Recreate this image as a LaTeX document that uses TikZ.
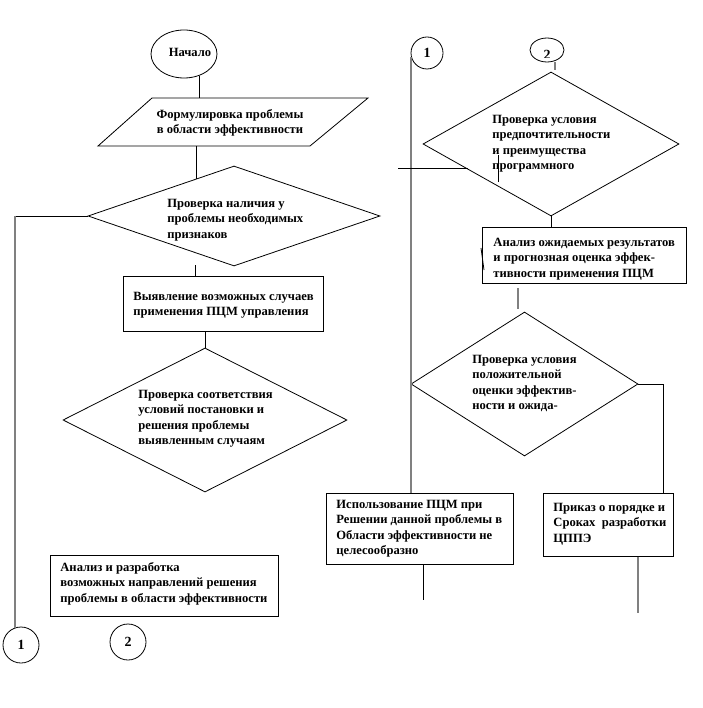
\documentclass[tikz,border=0pt]{standalone}
\usepackage{fontspec}
\setmainfont{Liberation Serif}
\usetikzlibrary{shapes.geometric}
\begin{document}
\begin{tikzpicture}[x=1pt,y=-1pt,line width=0.8pt,
  lbl/.style={anchor=north west,inner sep=0pt,align=left,font=\fontsize{12.6}{15.5}\selectfont\bfseries},
  dia/.style={draw,diamond,inner sep=0pt},
  box/.style={draw,rectangle,inner sep=0pt,line width=1pt},
  conn/.style={draw,circle,inner sep=0pt,minimum size=36pt,font=\fontsize{14}{16}\selectfont\bfseries},
  gline/.style={draw=gray,line width=1.6pt}]
\useasboundingbox (0,0) rectangle (702,708);

% ---------- left column ----------
\node[draw,ellipse,minimum width=66pt,minimum height=48pt,inner sep=0pt] (start) at (184,54) {};
\node[inner sep=0pt,font=\fontsize{12.6}{15.5}\selectfont\bfseries] (startt) at (190,52) {Начало};

\node[minimum width=216pt,minimum height=48pt,inner sep=0pt] (form) at (233,122) {};
\draw (152,98) -- (368,98) -- (310,146) -- (98,146) -- cycle;
\node[lbl,anchor=north,align=center] (formt) at (230,107) {\strut Формулировка проблемы\\в области эффективности};

\node[dia,minimum width=292pt,minimum height=100pt] (d1) at (234,216) {};
\node[lbl] (d1t) at (167,196) {\strut Проверка наличия у\\проблемы необходимых\\признаков};

\node[box,minimum width=200pt,minimum height=55pt] (b1) at (223,303.5) {};
\node[lbl] (b1t) at (133,289) {\strut Выявление возможных случаев\\применения ПЦМ управления};

\node[dia,minimum width=284pt,minimum height=144pt] (d2) at (205,420) {};
\node[lbl] (d2t) at (138,387) {\strut Проверка соответствия\\условий постановки и\\решения проблемы\\выявленным случаям};

\node[box,minimum width=228pt,minimum height=61pt] (b2) at (164,585.5) {};
\node[lbl] (b2t) at (60,560) {\strut Анализ и разработка\\возможных направлений решения\\проблемы в области эффективности};

\node[conn] (c1) at (21,645) {1};
\node[conn] (c2) at (128,642) {2};

\coordinate (k1) at (15,216);
\draw (start.-55) -- (start.-55 |- form.north);
\draw (196,146) -- (196,179.5);
\draw (d1.west) -- (k1);
\draw[gline] (k1) -- (15,628);
\draw (195,265) -- (195 ,276);
\draw (b1.south -| d2.north) -- (d2.north);

% ---------- right column ----------
\node[conn,minimum size=32pt] (c3) at (427,53) {1};
\node[draw,ellipse,minimum width=34pt,minimum height=24pt,inner sep=0pt] (c4) at (547,50) {};
\begin{scope}
\clip (530,38) rectangle (565,58);
\node[inner sep=0pt,font=\fontsize{14}{16}\selectfont\bfseries] (c4t) at (547,55) {2};
\end{scope}

\node[dia,minimum width=256pt,minimum height=144pt] (d3) at (551,144) {};
\node[lbl] (d3t) at (492,112) {\strut Проверка условия\\предпочтительности\\и преимущества\\программного};

\node[box,minimum width=204pt,minimum height=55pt] (b3) at (584,255.5) {};
\node[lbl] (b3t) at (493,235) {\strut Анализ ожидаемых результатов\\и прогнозная оценка эффек-\\тивности применения ПЦМ};

\node[dia,minimum width=227pt,minimum height=144pt] (d4) at (524.5,384) {};
\node[lbl] (d4t) at (472,352) {\strut Проверка условия\\положительной\\оценки эффектив-\\ности и ожида-};

\node[box,minimum width=187pt,minimum height=71pt] (b4) at (419.5,528.5) {};
\node[lbl] (b4t) at (336,497) {\strut Использование ПЦМ при\\Решении данной проблемы в\\Области эффективности не\\целесообразно};

\node[box,minimum width=130pt,minimum height=63pt] (b5) at (608,524.5) {};
\node[lbl] (b5t) at (553,500) {\strut Приказ о порядке и\\Сроках\ \ разработки\\ЦППЭ};

\coordinate (k2) at (398,168);
\coordinate (k3) at (663,384);
\coordinate (e1) at (423,600);
\coordinate (e2) at (638,613);
\draw[gline] (411,57) -- (b4.north -| 411,0);
\draw[draw=gray,line width=1.2pt] (555,62) -- (555,70);
\draw (k2) -- (467.7,168);
\draw (498,155) -- (498,182);
\draw (d3.south) -- (d3.south |- b3.north);
\draw (481,248) -- (484,270);
\draw[gline] (518,288) -- (518,309);
\draw (d4.east) -- (k3) -- (k3 |- b5.north);
\draw (b4.south -| e1) -- (e1);
\draw[gline] (b5.south -| e2) -- (e2);
\end{tikzpicture}
\end{document}
